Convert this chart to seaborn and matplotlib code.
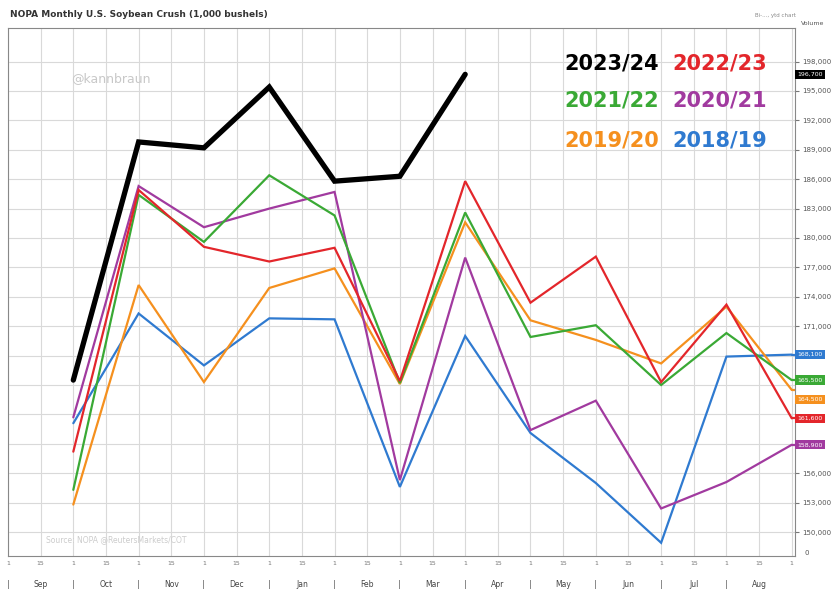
import matplotlib
matplotlib.use("Agg")
import matplotlib.pyplot as plt
import numpy as np
import pandas as pd
import seaborn as sns

# NOPA monthly crush, thousand bushels, Sep..Aug
months = ["Sep", "Oct", "Nov", "Dec", "Jan", "Feb", "Mar", "Apr", "May", "Jun", "Jul", "Aug"]
seasons = ["2023/24", "2022/23", "2021/22", "2020/21", "2019/20", "2018/19"]
crush_2324 = [165500, 189800, 189200, 195400, 185800, 186300, 196700]
crush_2223 = [158200, 184900, 179100, 177600, 179000, 165400, 185800, 173400, 178100, 165300, 173200, 161600]
crush_2122 = [154300, 184400, 179600, 186400, 182300, 165200, 182600, 169900, 171100, 165000, 170300, 165500]
crush_2021 = [161700, 185300, 181100, 183000, 184700, 155300, 178000, 160400, 163400, 152400, 155100, 158900]
crush_1920 = [152800, 175200, 165300, 174900, 176900, 165100, 181600, 171600, 169600, 167200, 173000, 164500]
crush_1819 = [161100, 172300, 167000, 171800, 171700, 154600, 170000, 160100, 155000, 148900, 167900, 168100]
yticks = [150000, 153000, 156000, 171000, 174000, 177000, 180000, 183000, 186000, 189000, 192000, 195000, 198000]

colors = {"2023/24": "#000000", "2022/23": "#e3262b", "2021/22": "#3aa935",
          "2020/21": "#a13a9f", "2019/20": "#f5901e", "2018/19": "#2f7ad0"}

series = [crush_2324, crush_2223, crush_2122, crush_2021, crush_1920, crush_1819]
rows = []
for s, vals in zip(seasons, series):
    for i, v in enumerate(vals):
        rows.append({"season": s, "month": i + 1, "crush": v})
df = pd.DataFrame(rows)

sns.set_style("white")
fig = plt.figure(figsize=(8.33, 5.89), dpi=100)
ax = fig.add_axes([0.0096, 0.056, 0.9448, 0.896])

# draw older seasons first, current season on top
for s in seasons[::-1]:
    d = df[df["season"] == s]
    lw = 3.8 if s == "2023/24" else 1.6
    sns.lineplot(data=d, x="month", y="crush", color=colors[s], lw=lw, ax=ax,
                 legend=False, solid_joinstyle="miter")

ax.set_xlim(0.05, 12.05)
ax.set_ylim(147550, 201400)

# grid: half-month verticals, 3,000 horizontals
for x in np.arange(0.0, 12.5, 0.5):
    ax.axvline(x, color="#d9d9d9", lw=0.8, zorder=0)
for y in np.arange(150000, 201000, 3000):
    ax.axhline(y, color="#d9d9d9", lw=0.8, zorder=0)

ax.yaxis.tick_right()
ax.set_yticks(yticks)
ax.set_yticklabels([f"{v:,}" for v in yticks], fontsize=5, color="#555555")
ax.tick_params(axis="y", length=3, color="#777777", pad=2)
ax.set_xticks(np.arange(0.0, 12.5, 0.5))
ax.set_xticklabels(["1" if k % 2 == 0 else "15" for k in range(25)], fontsize=4.5, color="#777777")
ax.tick_params(axis="x", length=2, pad=1.5)
ax.set_xlabel("")
ax.set_ylabel("")
for sp in ax.spines.values():
    sp.set_color("#888888")
    sp.set_linewidth(0.8)

# month names under the day numbers
for i, m in enumerate(months):
    ax.text(i + 0.5, -0.045, m, transform=ax.get_xaxis_transform(), ha="center", va="top",
            fontsize=5.5, color="#444444")
    ax.text(i, -0.045, "|", transform=ax.get_xaxis_transform(), ha="center", va="top",
            fontsize=6, color="#666666")

# last-value boxes on the right axis
for s, vals in zip(seasons, series):
    v = vals[-1]
    off = {"2019/20": -1000}.get(s, 0)
    ax.text(1.003, v + off, f"{v:,}", transform=ax.get_yaxis_transform(), ha="left", va="center",
            fontsize=4.5, color="white", zorder=5,
            bbox=dict(boxstyle="square,pad=0.35", fc=colors[s], ec="none"))
    if s != "2023/24":
        ax.plot([12, 12.05], [v, v], color=colors[s], lw=1.6, clip_on=False)

ax.text(1.008, 1.005, "Volume", transform=ax.transAxes, ha="left", va="bottom", fontsize=4.5, color="#555555")
ax.text(1.012, 147900, "0", transform=ax.get_yaxis_transform(), ha="left", va="center", fontsize=5, color="#555555")

# season legend as coloured text
pos = [(0.678, 0.893), (0.807, 0.893), (0.678, 0.830), (0.807, 0.830), (0.678, 0.762), (0.807, 0.762)]
for s, (px, py) in zip(seasons, pos):
    fig.text(px, py, s, color=colors[s], fontsize=15, fontweight="bold", ha="left", va="center")

fig.text(0.012, 0.976, "NOPA Monthly U.S. Soybean Crush (1,000 bushels)", fontsize=6.5,
         fontweight="bold", color="#333333", ha="left", va="center")
fig.text(0.955, 0.973, "Bi-..., ytd chart", fontsize=4, color="#888888", ha="right", va="center")
fig.text(0.085, 0.866, "@kannbraun", fontsize=9, color="#c8c8c8", ha="left", va="center")
fig.text(0.055, 0.083, "Source: NOPA @ReutersMarkets/COT", fontsize=5.5, color="#cccccc", ha="left", va="center")

fig.savefig("out.png", dpi=100)
